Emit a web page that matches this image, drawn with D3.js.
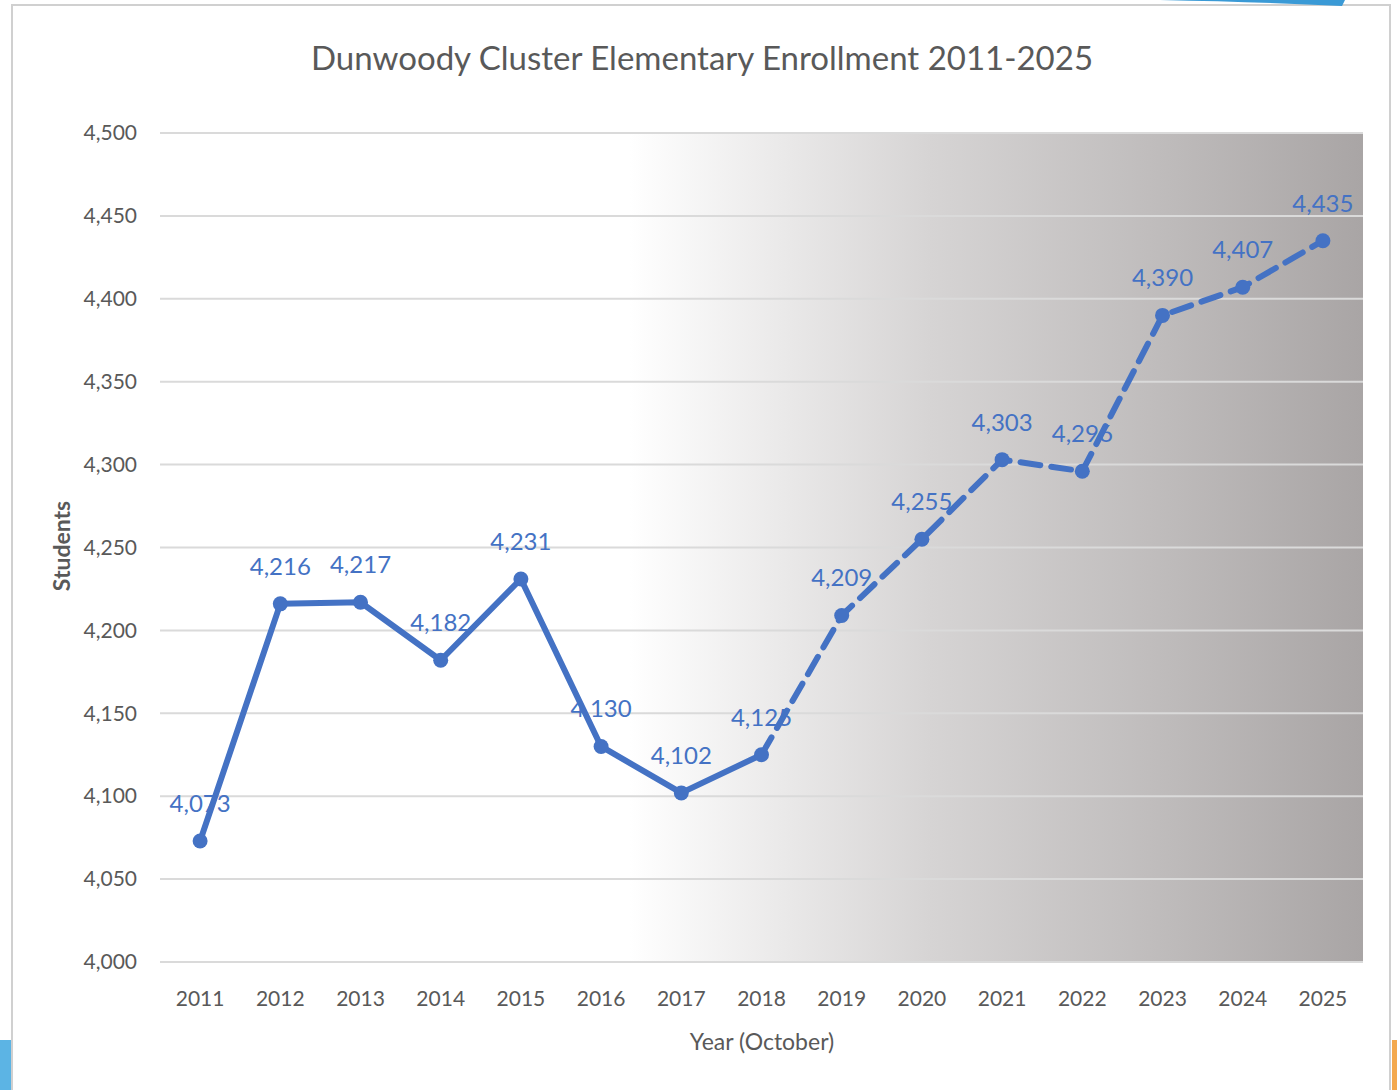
<!DOCTYPE html>
<html>
<head>
<meta charset="utf-8">
<script src="https://cdn.jsdelivr.net/npm/d3@7"></script>
<style>
  body { margin: 0; background: #fff; }
  text { font-family: Lato, "Open Sans", sans-serif; }
</style>
</head>
<body>
<script>
// data
var years = ["2011","2012","2013","2014","2015","2016","2017","2018","2019","2020","2021","2022","2023","2024","2025"];
var students = [4073, 4216, 4217, 4182, 4231, 4130, 4102, 4125, 4209, 4255, 4303, 4296, 4390, 4407, 4435];
var lastActual = "2018";   // dashed from here on
var yTicks = [4000, 4050, 4100, 4150, 4200, 4250, 4300, 4350, 4400, 4450, 4500];

var W = 1397, H = 1090;
var margin = {left: 160, top: 133, right: 34, bottom: 128};

var svg = d3.select("body").append("svg")
    .attr("width", W)
    .attr("height", H);

// slide frame + decorations
svg.append("rect").attr("x", 12).attr("y", 5).attr("width", 1378).attr("height", 1100)
    .attr("fill", "#fff").attr("stroke", "#d0d0d0").attr("stroke-width", 2);
svg.append("path")
    .attr("d", "M1160,0 Q1260,2 1342,6 L1345,0 Z")
    .attr("fill", "#3a9ad6");
svg.append("rect").attr("x", 0).attr("y", 1040).attr("width", 11).attr("height", 50).attr("fill", "#5cb4e4");
svg.append("rect").attr("x", 1392).attr("y", 1040).attr("width", 5).attr("height", 50).attr("fill", "#f4a94e");

var x = d3.scaleBand().domain(years)
    .range([margin.left, W - margin.right]);
var y = d3.scaleLinear().domain([4000, 4500])
    .range([H - margin.bottom, margin.top]);

var px = function(d) { return x(d) + x.bandwidth() / 2; };

// plot-area gradient (white to grey on the right)
var defs = svg.append("defs");
var grad = defs.append("linearGradient").attr("id", "bg")
    .attr("gradientUnits", "userSpaceOnUse")
    .attr("x1", margin.left).attr("x2", W - margin.right)
    .attr("y1", 0).attr("y2", 0);
grad.append("stop").attr("offset", 0).attr("stop-color", "#ffffff");
grad.append("stop").attr("offset", 0.39).attr("stop-color", "#ffffff");
grad.append("stop").attr("offset", 0.64).attr("stop-color", "#d6d4d4");
grad.append("stop").attr("offset", 0.83).attr("stop-color", "#bfbcbc");
grad.append("stop").attr("offset", 1).attr("stop-color", "#a9a5a5");

svg.append("rect")
    .attr("x", margin.left).attr("y", margin.top)
    .attr("width", W - margin.right - margin.left)
    .attr("height", y(4000) - margin.top)
    .attr("fill", "url(#bg)");

// gridlines
svg.append("g").selectAll("line")
    .data(yTicks)
    .enter().append("line")
    .attr("x1", margin.left).attr("x2", W - margin.right)
    .attr("y1", function(d) { return y(d); })
    .attr("y2", function(d) { return y(d); })
    .attr("stroke", "#dadada")
    .attr("stroke-width", 2);

// y axis
var yAxis = svg.append("g")
    .attr("transform", "translate(" + (margin.left - 20) + ",0)")
    .call(d3.axisLeft(y).tickValues(yTicks).tickSize(0).tickFormat(d3.format(",")));
yAxis.select(".domain").remove();
yAxis.selectAll("text").attr("fill", "#595959").style("font-size", "21px");

// x axis
var xAxis = svg.append("g")
    .attr("transform", "translate(0," + (y(4000) + 26) + ")")
    .call(d3.axisBottom(x).tickSize(0));
xAxis.select(".domain").remove();
xAxis.selectAll("text").attr("fill", "#595959").style("font-size", "21px").attr("dy", "0.71em");

// titles
svg.append("text")
    .attr("x", 702).attr("y", 70)
    .attr("text-anchor", "middle")
    .attr("fill", "#595959")
    .style("font-size", "33px")
    .text("Dunwoody Cluster Elementary Enrollment 2011-2025");

svg.append("text")
    .attr("transform", "translate(70,546) rotate(-90)")
    .attr("text-anchor", "middle")
    .attr("fill", "#595959")
    .style("font-size", "23px")
    .style("font-weight", "bold")
    .text("Students");

svg.append("text")
    .attr("x", 762).attr("y", 1050)
    .attr("text-anchor", "middle")
    .attr("fill", "#595959")
    .style("font-size", "23px")
    .text("Year (October)");

// series
var pts = years.map(function(d, i) { return {year: d, value: students[i]}; });
var cut = years.indexOf(lastActual);
var line = d3.line()
    .x(function(d) { return px(d.year); })
    .y(function(d) { return y(d.value); });

svg.append("path")
    .datum(pts.slice(0, cut + 1))
    .attr("d", line)
    .attr("fill", "none")
    .attr("stroke", "#4472c4")
    .attr("stroke-width", 6)
    .attr("stroke-linejoin", "round");

svg.append("path")
    .datum(pts.slice(cut))
    .attr("d", line)
    .attr("fill", "none")
    .attr("stroke", "#4472c4")
    .attr("stroke-width", 6)
    .attr("stroke-dasharray", "20,11")
    .attr("stroke-linecap", "round");

svg.append("g").selectAll("circle")
    .data(pts)
    .enter().append("circle")
    .attr("cx", function(d) { return px(d.year); })
    .attr("cy", function(d) { return y(d.value); })
    .attr("r", 7.5)
    .attr("fill", "#4472c4");

svg.append("g").selectAll("text")
    .data(pts)
    .enter().append("text")
    .attr("x", function(d) { return px(d.year); })
    .attr("y", function(d) { return y(d.value) - 29; })
    .attr("text-anchor", "middle")
    .attr("fill", "#4472c4")
    .style("font-size", "24px")
    .text(function(d) { return d3.format(",")(d.value); });
</script>
</body>
</html>
